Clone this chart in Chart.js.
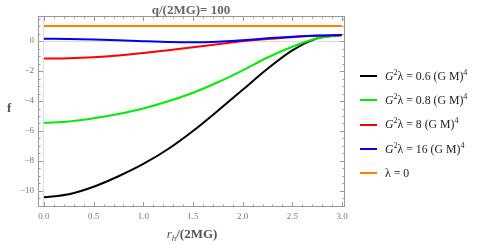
<!DOCTYPE html>
<html>
<head>
<meta charset="utf-8">
<script src="https://cdn.jsdelivr.net/npm/chart.js@4"></script>
<style>
  html, body { margin: 0; padding: 0; background: #fff; }
  #wrap { position: relative; width: 479px; height: 245px; }
  #chart { position: absolute; left: 0; top: 0; }
  .lbl { position: absolute; font-family: "Liberation Serif", "DejaVu Serif", serif; white-space: nowrap; }
  #title { left: 0; width: 382px; top: 2px; text-align: center; font-size: 13px; font-weight: bold; color: #666; }
  #ylab { left: 7px; top: 100px; font-size: 13px; font-weight: bold; color: #555; }
  #xlab { left: 0; width: 384px; top: 226px; text-align: center; font-size: 13px; font-weight: bold; color: #555; }
  #legend { position: absolute; left: 360px; top: 64px; font-family: "Liberation Serif", serif; font-size: 11.8px; color: #222; }
  .row { height: 24.3px; display: flex; align-items: center; white-space: nowrap; }
  .sw { width: 17px; height: 2px; margin-right: 8px; }
  sup { font-size: 8px; vertical-align: 5px; line-height: 0; }
  sub { font-size: 9px; vertical-align: -3px; line-height: 0; }
</style>
</head>
<body>
<div id="wrap">
  <canvas id="chart" width="479" height="245"></canvas>
  <div id="title" class="lbl">q/(2MG)= 100</div>
  <div id="ylab" class="lbl">f</div>
  <div id="xlab" class="lbl"><i style="font-weight:normal">r<sub>h</sub></i>/(2MG)</div>
  <div id="legend"></div>
</div>
<script>
// x positions r_h/(2MG)
const xs = [0, 0.25, 0.5, 0.75, 1.0, 1.25, 1.5, 1.75, 2.0, 2.25, 2.5, 2.75, 3.0];

// f values for each lambda
const fBlack = [-10.42, -10.22, -9.72, -9.02, -8.2, -7.2, -6.0, -4.65, -3.25, -1.85, -0.62, 0.18, 0.4];
const fGreen = [-5.45, -5.37, -5.15, -4.86, -4.5, -4.02, -3.45, -2.75, -1.95, -1.1, -0.38, 0.18, 0.4];
const fRed = [-1.17, -1.15, -1.08, -0.96, -0.8, -0.62, -0.42, -0.22, -0.02, 0.13, 0.26, 0.35, 0.4];
const fBlue = [0.16, 0.14, 0.1, 0.05, -0.01, -0.06, -0.08, -0.04, 0.06, 0.18, 0.29, 0.37, 0.4];
const fOrange = [1, 1, 1, 1, 1, 1, 1, 1, 1, 1, 1, 1, 1];

const seriesNames = [
  "<i>G</i><sup>2</sup>λ = 0.6 (G M)<sup>4</sup>",
  "<i>G</i><sup>2</sup>λ = 0.8 (G M)<sup>4</sup>",
  "<i>G</i><sup>2</sup>λ = 8 (G M)<sup>4</sup>",
  "<i>G</i><sup>2</sup>λ = 16 (G M)<sup>4</sup>",
  "λ = 0",
];
const seriesColors = ["#000000", "#00ee00", "#ff0000", "#0000ff", "#ff8000"];
const seriesData = [fBlack, fGreen, fRed, fBlue, fOrange];

const xTicks = [0, 0.5, 1.0, 1.5, 2.0, 2.5, 3.0];
const yTicks = [-10, -8, -6, -4, -2, 0];

const toPoints = (ys) => xs.map((x, i) => ({ x, y: ys[i] }));

// legend (html so super/subscripts work)
const legend = document.getElementById("legend");
seriesNames.forEach((name, i) => {
  const row = document.createElement("div");
  row.className = "row";
  row.innerHTML = '<span class="sw" style="background:' + seriesColors[i] + '"></span><span>' + name + "</span>";
  legend.appendChild(row);
});

// frame + inward ticks like Mathematica
const framePlugin = {
  id: "frame",
  afterDraw(chart) {
    const { ctx, chartArea: a, scales } = chart;
    ctx.save();
    ctx.strokeStyle = "#999";
    ctx.lineWidth = 1;
    ctx.strokeRect(a.left + 0.5, a.top + 0.5, a.right - a.left - 1, a.bottom - a.top - 1);
    ctx.beginPath();
    for (let k = 0; k <= 30; k++) {
      const v = k / 10;
      const px = Math.round(scales.x.getPixelForValue(v)) + 0.5;
      const len = k % 5 === 0 ? 5 : 2.5;
      ctx.moveTo(px, a.bottom); ctx.lineTo(px, a.bottom - len);
      ctx.moveTo(px, a.top); ctx.lineTo(px, a.top + len);
    }
    for (let k = -22; k <= 3; k++) {
      const v = k / 2;
      const py = Math.round(scales.y.getPixelForValue(v)) + 0.5;
      if (py < a.top || py > a.bottom) continue;
      const len = k % 4 === 0 ? 5 : 2.5;
      ctx.moveTo(a.left, py); ctx.lineTo(a.left + len, py);
      ctx.moveTo(a.right, py); ctx.lineTo(a.right - len, py);
    }
    ctx.stroke();
    ctx.restore();
  },
};

new Chart(document.getElementById("chart"), {
  type: "line",
  data: {
    datasets: seriesData.map((ys, i) => ({
      data: toPoints(ys),
      borderColor: seriesColors[i],
      borderWidth: 2,
      pointRadius: 0,
      cubicInterpolationMode: "monotone",
      fill: false,
    })).reverse(),
  },
  options: {
    responsive: false,
    animation: false,
    layout: { padding: { left: 0, right: 134, top: 16, bottom: 0 } },
    plugins: { legend: { display: false }, tooltip: { enabled: false } },
    scales: {
      x: {
        type: "linear",
        min: -0.06,
        max: 3.03,
        afterFit: (s) => { s.height = 38; },
        afterBuildTicks: (s) => { s.ticks = xTicks.map((v) => ({ value: v })); },
        border: { display: false },
        grid: {
          drawTicks: false,
          color: (c) => (c.tick && c.tick.value === 0 ? "#ddd" : "rgba(0,0,0,0)"),
        },
        ticks: {
          padding: 4,
          color: "#777",
          font: { family: "Liberation Serif", size: 9 },
          callback: (v) => Number(v).toFixed(1),
        },
      },
      y: {
        type: "linear",
        min: -11.07,
        max: 1.67,
        afterFit: (s) => { s.width = 38; },
        afterBuildTicks: (s) => { s.ticks = yTicks.map((v) => ({ value: v })); },
        border: { display: false },
        grid: {
          drawTicks: false,
          color: (c) => (c.tick && c.tick.value === 0 ? "#ddd" : "rgba(0,0,0,0)"),
        },
        ticks: {
          padding: 4,
          color: "#777",
          font: { family: "Liberation Serif", size: 9 },
          callback: (v) => (v < 0 ? "\u2212" + Math.abs(v) : String(v)),
        },
      },
    },
  },
  plugins: [framePlugin],
});
</script>
</body>
</html>
